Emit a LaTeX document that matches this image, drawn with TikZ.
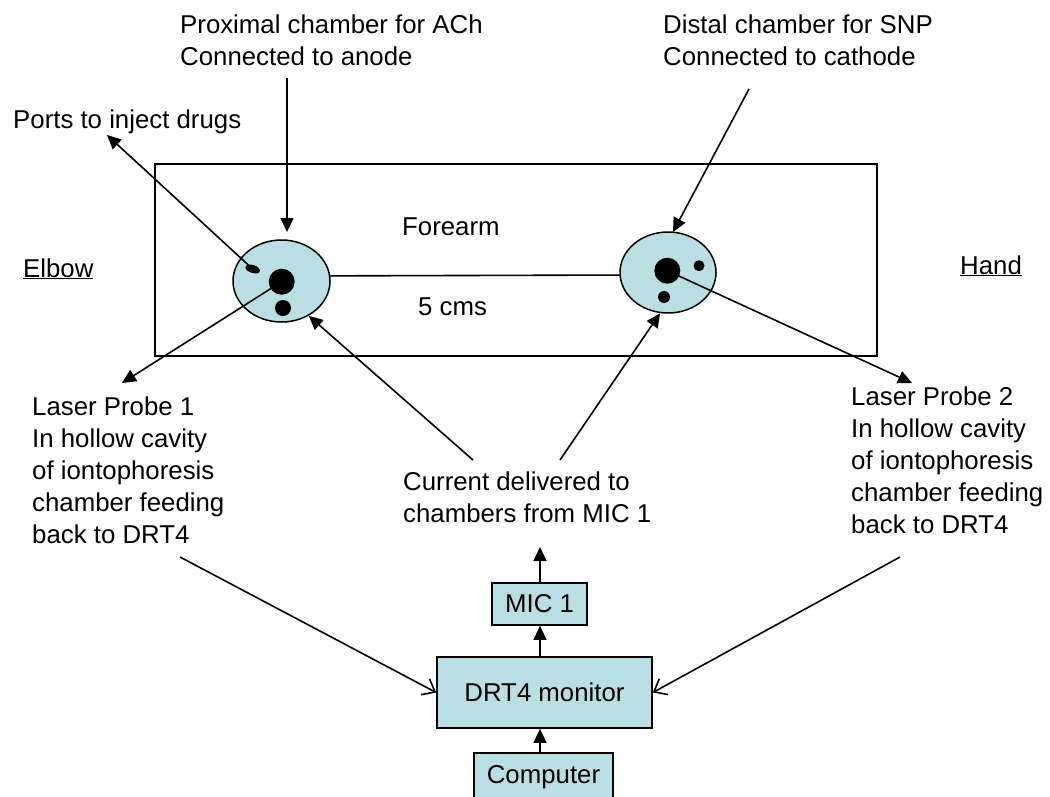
\documentclass[tikz,border=0pt]{standalone}
\usepackage{fontspec}
\setmainfont{Liberation Sans}
\usetikzlibrary{arrows.meta,shapes.geometric}
\definecolor{cyanfill}{RGB}{186,223,226}
\begin{document}
\begin{tikzpicture}[x=1pt,y=-1pt, font=\fontsize{25.8}{32}\selectfont,
  lbl/.style={anchor=north west, inner sep=0pt, align=left},
  arr/.style={line width=1.6pt, -{Triangle[length=14pt,width=13pt]}},
  openarr/.style={line width=1.6pt, -{Straight Barb[length=11pt,width=18pt]}},
  box/.style={draw, line width=1.7pt, fill=cyanfill, inner sep=0pt},
  chamber/.style={ellipse, draw, line width=1.5pt, fill=cyanfill, inner sep=0pt},
  dot/.style={circle, fill=black, inner sep=0pt}]
\useasboundingbox (0,0) rectangle (1050,796);
% forearm outline
\draw[line width=1.7pt] (155,164) rectangle (877,356);
% chambers
\node[chamber, minimum width=97pt, minimum height=82pt] (L) at (281.5,281) {};
\node[chamber, minimum width=96pt, minimum height=81pt] (R) at (668,272.5) {};
\draw[line width=1.6pt] (L.6) -- (R.183);
\node[dot, minimum size=26pt] (bigL) at (281.7,281.7) {};
\node[dot, minimum size=16pt] (smL) at (283,308) {};
\node[ellipse, fill=black, inner sep=0pt, minimum width=15pt, minimum height=8pt, rotate=-18] (port) at (252.7,269) {};
\node[dot, minimum size=26pt] (bigR) at (667.3,270.7) {};
\node[dot, minimum size=11pt] (smR1) at (699,265.7) {};
\node[dot, minimum size=12pt] (smR2) at (664,297) {};
% texts
\node[lbl] (prox) at (180,14.5) {Proximal chamber for ACh\\Connected to anode};
\node[lbl] (dist) at (663,14.5) {Distal chamber for SNP\\Connected to cathode};
\node[lbl] (ports) at (13,109.5) {Ports to inject drugs};
\node[lbl] (lp1) at (32,396.5) {Laser Probe 1\\In hollow cavity\\of iontophoresis\\chamber feeding\\back to DRT4};
\node[lbl] (lp2) at (851,386.5) {Laser Probe 2\\In hollow cavity\\of iontophoresis\\chamber feeding\\back to DRT4};
\node[lbl] (cur) at (403,471.5) {Current delivered to\\chambers from MIC 1};
\node[lbl] (fore) at (402,218) {Forearm};
\node[lbl] (cms) at (418,298) {5 cms};
\node[anchor=base west, inner sep=0pt] (elbow) at (23,277) {\underline{Elbow}};
\node[anchor=base west, inner sep=0pt] (hand) at (960,274) {\underline{Hand}};
% boxes
\node[box, minimum width=95pt, minimum height=42pt] (mic) at (539.5,604) {MIC 1};
\node[box, minimum width=215pt, minimum height=71pt] (drt) at (544.5,692.5) {DRT4 monitor};
\node[box, minimum width=139pt, minimum height=48pt] (comp) at (543.5,777) {Computer};
% free ends
\coordinate (proxS) at (287,78);
\coordinate (proxT) at (287,232);
\coordinate (distS) at (749,89);
\coordinate (distT) at (673,232);
\coordinate (portT) at (107,135);
\coordinate (lp1T) at (122,383);
\coordinate (lp2T) at (912,383);
\coordinate (curA) at (473,460);
\coordinate (curB) at (560,460);
\coordinate (lp1S) at (180,557);
\coordinate (lp2S) at (900,557);
\coordinate (micT) at (540,547);
% connectors
\draw[arr] (proxS) -- (proxT);
\draw[arr] (distS) -- (distT);
\draw[arr] (port.center) -- (portT);
\draw[arr] (bigL.center) -- (lp1T);
\draw[arr] (bigR.center) -- (lp2T);
\draw[arr] (curA) -- (L.-52);
\draw[arr] (curB) -- (R.-101);
\draw[arr] (micT |- mic.north) -- (micT);
\draw[arr] (micT |- drt.north) -- (micT |- mic.south);
\draw[arr] (micT |- comp.north) -- (micT |- drt.south);
\draw[openarr] (lp1S) -- (drt.west);
\draw[openarr] (lp2S) -- (drt.east);
\end{tikzpicture}
\end{document}
